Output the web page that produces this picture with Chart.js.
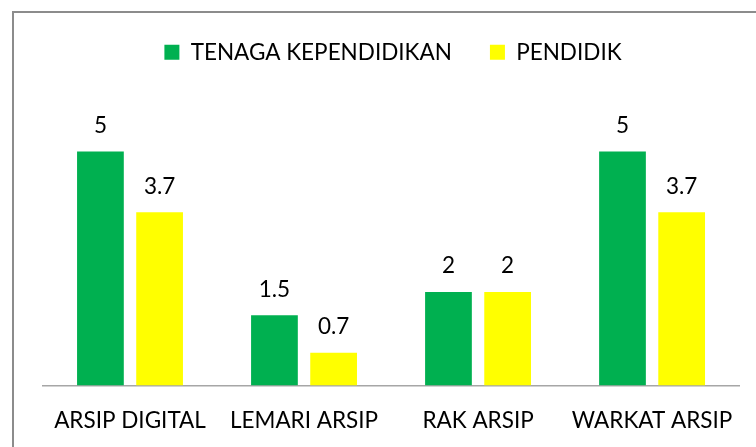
<!DOCTYPE html>
<html>
<head>
<meta charset="utf-8">
<script src="https://cdn.jsdelivr.net/npm/chart.js@4/dist/chart.umd.min.js"></script>
<style>
  html, body { margin: 0; padding: 0; background: #ffffff; }
  #wrap { width: 756px; height: 447px; position: relative; }
</style>
</head>
<body>
<div id="wrap"><canvas id="c" width="756" height="447"></canvas></div>
<script>
const categories = ["ARSIP DIGITAL", "LEMARI ARSIP", "RAK ARSIP", "WARKAT ARSIP"];
const seriesNames = ["TENAGA KEPENDIDIKAN", "PENDIDIK"];
const tenagaKependidikan = [5, 1.5, 2, 5];
const pendidik = [3.7, 0.7, 2, 3.7];

const FONT = "Lato";
const FS = 22.5;

const frameBorder = {
  id: 'frameBorder',
  beforeLayout(chart) {
    if (chart.legend && !chart.legend._patched) {
      const orig = chart.legend.fit;
      chart.legend.fit = function () { orig.call(this); this.height = 101.7; };
      chart.legend._patched = true;
    }
  },
  afterDraw(chart) {
    const ctx = chart.ctx;
    ctx.save();
    ctx.strokeStyle = '#8c8c8c';
    ctx.lineWidth = 2;
    ctx.beginPath();
    ctx.moveTo(13, 447);
    ctx.lineTo(13, 12);
    ctx.lineTo(756, 12);
    ctx.stroke();
    ctx.restore();
  }
};

const valueLabels = {
  id: 'valueLabels',
  afterDatasetsDraw(chart) {
    const ctx = chart.ctx;
    ctx.save();
    ctx.font = FS + 'px ' + FONT;
    ctx.fillStyle = '#000000';
    ctx.textAlign = 'center';
    ctx.textBaseline = 'alphabetic';
    chart.data.datasets.forEach((ds, di) => {
      const meta = chart.getDatasetMeta(di);
      meta.data.forEach((bar, i) => {
        ctx.fillText(String(ds.data[i]), bar.x, bar.y - 18.5);
      });
    });
    ctx.restore();
  }
};

new Chart(document.getElementById('c'), {
  type: 'bar',
  data: {
    labels: categories,
    datasets: [
      { label: seriesNames[0], data: tenagaKependidikan, backgroundColor: '#00B050' },
      { label: seriesNames[1], data: pendidik, backgroundColor: '#FFFF00' }
    ]
  },
  options: {
    responsive: false,
    animation: false,
    devicePixelRatio: 1,
    categoryPercentage: 0.68,
    barPercentage: 0.79,
    layout: { padding: { left: 43, right: 13, top: 3, bottom: 0 } },
    plugins: {
      legend: {
        position: 'top',
        labels: {
          boxWidth: 15,
          boxHeight: 15,
          padding: 38,
          color: '#000000',
          font: { family: FONT, size: FS }
        }
      },
      tooltip: { enabled: false }
    },
    scales: {
      x: {
        afterFit(scale) { scale.height = 61.5; },
        grid: { display: false, drawTicks: false },
        border: { display: true, color: '#a6a6a6', width: 1.5 },
        ticks: { color: '#000000', padding: 22, font: { family: FONT, size: FS } }
      },
      y: {
        display: false,
        min: 0,
        max: 6
      }
    }
  },
  plugins: [frameBorder, valueLabels]
});
</script>
</body>
</html>
